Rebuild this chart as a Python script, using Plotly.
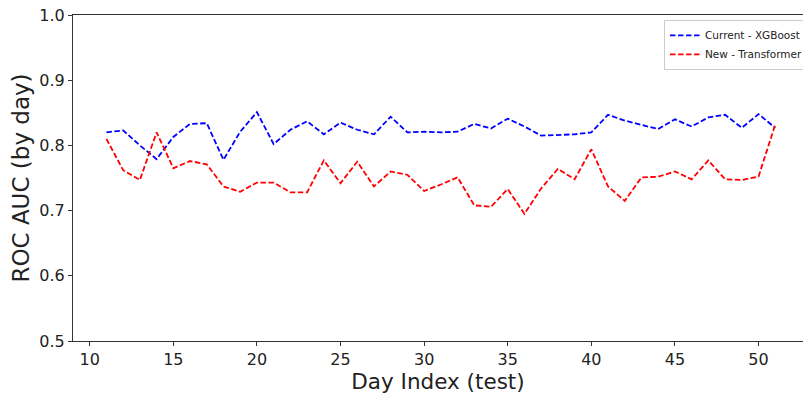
import plotly.graph_objects as go

days = list(range(11, 52))
xgboost_auc = [0.820, 0.823, 0.800, 0.779, 0.813, 0.833, 0.834, 0.778, 0.821, 0.851,
               0.802, 0.824, 0.837, 0.817, 0.835, 0.824, 0.817, 0.844, 0.820, 0.821,
               0.820, 0.821, 0.833, 0.826, 0.841, 0.829, 0.815, 0.816, 0.817, 0.820,
               0.847, 0.838, 0.832, 0.825, 0.840, 0.829, 0.843, 0.847, 0.827, 0.848,
               0.827]
transformer_auc = [0.810, 0.762, 0.747, 0.820, 0.765, 0.776, 0.771, 0.737, 0.729, 0.743,
                   0.743, 0.728, 0.728, 0.777, 0.742, 0.775, 0.737, 0.760, 0.755, 0.730,
                   0.740, 0.751, 0.708, 0.706, 0.733, 0.695, 0.734, 0.764, 0.748, 0.794,
                   0.737, 0.715, 0.751, 0.752, 0.760, 0.748, 0.777, 0.748, 0.747, 0.752,
                   0.832]
series_names = ["Current - XGBoost", "New - Transformer"]
x_ticks = [10, 15, 20, 25, 30, 35, 40, 45, 50]
y_ticks = [0.5, 0.6, 0.7, 0.8, 0.9, 1.0]

FONT = "DejaVu Sans"
AX = "#333333"

fig = go.Figure()
fig.add_trace(go.Scatter(x=days, y=xgboost_auc, mode="lines", name=series_names[0],
                         line=dict(color="#0000ff", width=1.8, dash="5.5px,2.5px")))
fig.add_trace(go.Scatter(x=days, y=transformer_auc, mode="lines", name=series_names[1],
                         line=dict(color="#ff0000", width=1.8, dash="5.5px,2.5px")))

fig.update_layout(
    width=803, height=395,
    margin=dict(l=73, r=0, t=15, b=54, autoexpand=False),
    paper_bgcolor="white", plot_bgcolor="white",
    font=dict(family=FONT, color="#222222"),
    showlegend=True,
    legend=dict(x=0.8096, y=0.985, xanchor="left", yanchor="top",
                bgcolor="rgba(255,255,255,0.9)", bordercolor="#cccccc", borderwidth=1,
                font=dict(family=FONT, size=10.5, color="#222222"),
                itemwidth=30, tracegroupgap=0),
    xaxis=dict(range=[9, 52.66], tickvals=x_ticks, ticktext=[str(v) for v in x_ticks],
               showgrid=False, zeroline=False, showline=True, linecolor=AX, linewidth=1,
               mirror=True, ticks="outside", ticklen=4, tickcolor=AX,
               tickfont=dict(family=FONT, size=16, color="#222222"),
               title=dict(text="Day Index (test)", font=dict(family=FONT, size=21.5, color="#222222"),
                          standoff=4)),
    yaxis=dict(range=[0.5, 1.0], tickvals=y_ticks, ticktext=[f"{v:.1f}" for v in y_ticks],
               showgrid=False, zeroline=False, showline=True, linecolor=AX, linewidth=1,
               mirror=False, ticks="outside", ticklen=4, tickcolor=AX,
               tickfont=dict(family=FONT, size=16, color="#222222"),
               title=dict(text="ROC AUC (by day)", font=dict(family=FONT, size=23, color="#222222"),
                          standoff=3)),
)

fig.write_html("out.html", config={"displayModeBar": False},
               post_script="document.body.style.margin='0';document.body.style.overflow='hidden';")
